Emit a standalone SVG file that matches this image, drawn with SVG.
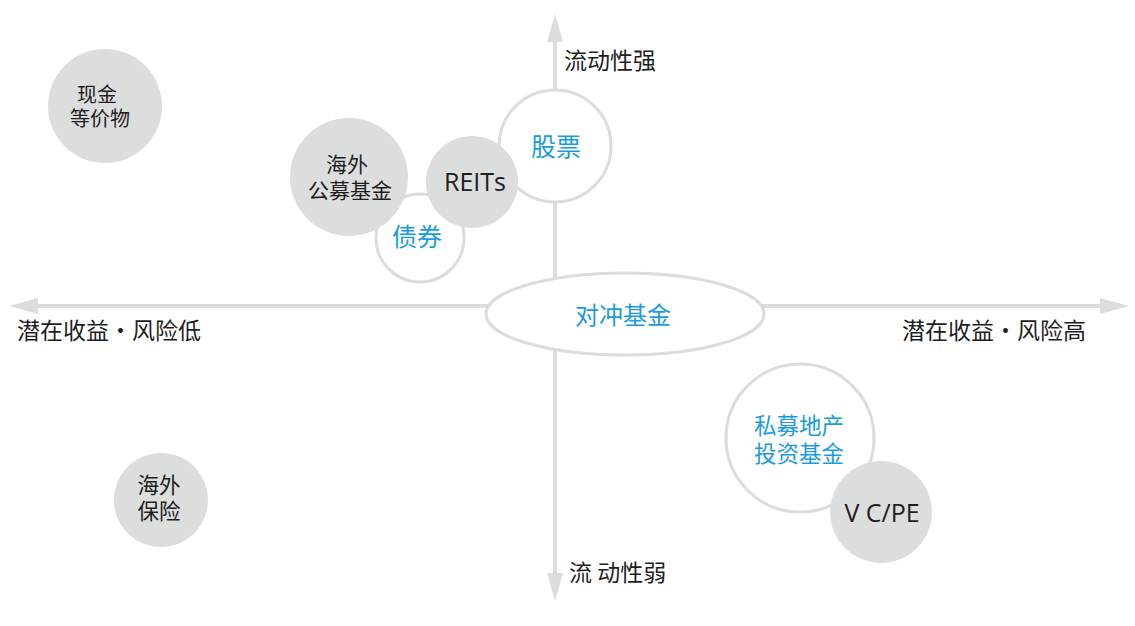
<svg xmlns="http://www.w3.org/2000/svg" width="1135" height="626" viewBox="0 0 1135 626">
<style>
.ax{stroke:#dcdcdc;stroke-width:4;fill:none}
.ah{fill:#dcdcdc}
.g{fill:#dcdddd}
.w{fill:#fff;stroke:#dcdcdc;stroke-width:3}
text{font-family:"Microsoft YaHei","Noto Sans CJK SC","Noto Sans",sans-serif;text-anchor:middle}
.k{fill:#1e1e1e}
.b{fill:#1a9be0}
.lab{fill:#1e1e1e;font-size:23px;text-anchor:start}
.lat{font-family:"Segoe UI","Open Sans",sans-serif}
</style>
<rect width="1135" height="626" fill="#fff"/>
<g id="connectors">
<line class="ax" x1="555" y1="40" x2="555" y2="575"/>
<polygon class="ah" points="555,14 547,42 563,42"/>
<polygon class="ah" points="555,601 547,573 563,573"/>
<line class="ax" x1="36" y1="306" x2="1102" y2="306"/>
<polygon class="ah" points="9,306 38,298 38,314"/>
<polygon class="ah" points="1129,306 1100,298 1100,314"/>
</g>
<g id="label-up"><text class="lab" x="564" y="69" font-size="25">流动性强</text></g>
<g id="label-down"><text class="lab" x="569" y="581" font-size="22">流 动性弱</text></g>
<g id="label-left"><text class="lab" x="17" y="339">潜在收益・风险低</text></g>
<g id="label-right"><text class="lab" x="902" y="339">潜在收益・风险高</text></g>
<g id="cash"><circle class="g" cx="105" cy="106" r="57"/><text class="k" font-size="20"><tspan x="97" y="102">现金</tspan><tspan x="100" y="126">等价物</tspan></text></g>
<g id="bond"><circle class="w" cx="420" cy="238" r="44"/><text class="b" font-size="25" x="417" y="246">债券</text></g>
<g id="overseas-fund"><circle class="g" cx="349" cy="177" r="59"/><text class="k" font-size="21"><tspan x="347" y="172">海外</tspan><tspan x="350" y="197.5">公募基金</tspan></text></g>
<g id="stock"><circle class="w" cx="555" cy="146" r="56"/><text class="b" font-size="25" x="556" y="156">股票</text></g>
<g id="reits"><circle class="g" cx="472" cy="182" r="46"/><text class="k lat" font-size="25" x="475" y="191">REITs</text></g>
<g id="hedge"><ellipse class="w" cx="625" cy="314" rx="139" ry="41"/><text class="b" font-size="24" x="623" y="324">对冲基金</text></g>
<g id="insurance"><circle class="g" cx="161" cy="500" r="47"/><text class="k" font-size="21.5"><tspan x="159" y="493">海外</tspan><tspan x="159" y="519">保险</tspan></text></g>
<g id="pe-real-estate"><circle class="w" cx="800" cy="438" r="74"/><text class="b" font-size="22.5"><tspan x="799" y="434">私募地产</tspan><tspan x="799" y="461.5">投资基金</tspan></text></g>
<g id="vcpe"><circle class="g" cx="881" cy="512" r="51"/><text class="k lat" font-size="25" x="882" y="522">V C/PE</text></g>
</svg>
